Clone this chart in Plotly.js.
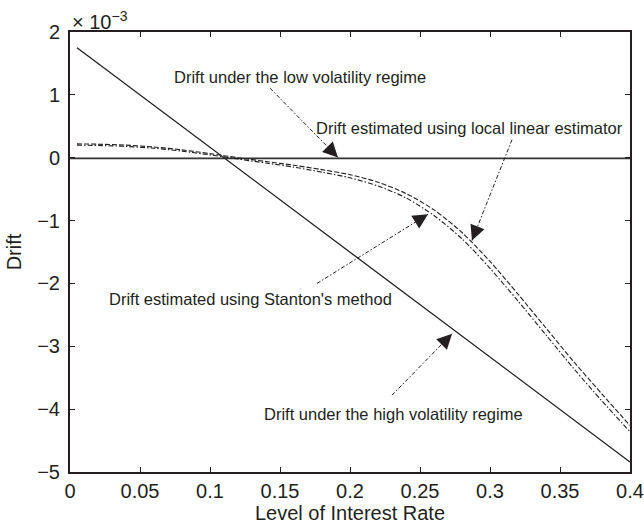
<!DOCTYPE html>
<html>
<head>
<meta charset="utf-8">
<script src="https://cdn.plot.ly/plotly-3.0.1.min.js"></script>
<style>html,body{margin:0;padding:0;background:#fff;}#chart{width:644px;height:528px;}</style>
</head>
<body>
<div id="chart"></div>
<script>
// Values in units of 1e-3 (axis shows "× 10^-3")
const rateGrid = [0.005, 0.02, 0.04, 0.06, 0.08, 0.10, 0.12, 0.14, 0.16, 0.18, 0.20, 0.22, 0.24, 0.26, 0.28, 0.30, 0.32, 0.34, 0.36, 0.38, 0.40];
const driftLocalLinear = [0.22, 0.215, 0.20, 0.17, 0.125, 0.065, 0.0, -0.06, -0.12, -0.19, -0.27, -0.39, -0.57, -0.83, -1.19, -1.65, -2.17, -2.71, -3.25, -3.76, -4.26];
const driftStanton     = [0.20, 0.195, 0.18, 0.15, 0.105, 0.045, -0.02, -0.085, -0.15, -0.23, -0.32, -0.45, -0.64, -0.92, -1.29, -1.76, -2.28, -2.82, -3.36, -3.87, -4.36];
const highVolRate = [0.005, 0.40];
const highVolDrift = [1.75, -4.84];
const lowVolRate = [0.0, 0.40];
const lowVolDrift = [-0.01, -0.01];

const xTicks = [0, 0.05, 0.1, 0.15, 0.2, 0.25, 0.3, 0.35, 0.4];
const xTickText = ['0', '0.05', '0.1', '0.15', '0.2', '0.25', '0.3', '0.35', '0.4'];
const yTicks = [-5, -4, -3, -2, -1, 0, 1, 2];
const yTickText = ['\u22125', '\u22124', '\u22123', '\u22122', '\u22121', '0', '1', '2'];

// Callout labels: text, text position, arrow tail, arrow head (data coords)
const labelTexts = ['Drift under the low volatility regime', 'Drift estimated using local linear estimator', "Drift estimated using Stanton's method", 'Drift under the high volatility regime'];
const labelPos = [[0.1643, 1.28], [0.2850, 0.47], [0.1286, -2.24], [0.2314, -4.07]];
const arrowTail = [[0.1429, 1.106], [0.3157, 0.286], [0.1764, -2.0], [0.2300, -3.778]];
const arrowHead = [[0.1914, 0.005], [0.2871, -1.317], [0.2557, -0.90], [0.2729, -2.80]];

const ink = '#231f20';
const FONT = 'Liberation Sans, Arial, Helvetica, sans-serif';

const traces = [
  {x: highVolRate, y: highVolDrift, mode: 'lines', line: {color: ink, width: 1.3}, name: 'high'},
  {x: lowVolRate, y: lowVolDrift, mode: 'lines', line: {color: '#333', width: 1.8}, name: 'low'},
  {x: rateGrid, y: driftLocalLinear, mode: 'lines', line: {color: ink, width: 1.1, dash: '5px,2px', shape: 'spline', smoothing: 0.8}, name: 'local linear'},
  {x: rateGrid, y: driftStanton, mode: 'lines', line: {color: ink, width: 1.1, dash: '5px,2px,1.5px,2px', shape: 'spline', smoothing: 0.8}, name: 'Stanton'}
];

const plotW = 644 - 70 - 14, plotH = 528 - 32 - 56;
const pxPerX = plotW / 0.4, pxPerY = plotH / 7;

const shapes = [];
const annotations = [];
labelTexts.forEach((t, i) => {
  annotations.push({x: labelPos[i][0], y: labelPos[i][1], xref: 'x', yref: 'y', text: t, showarrow: false,
    font: {family: FONT, size: 16.5, color: ink}, xanchor: 'center', yanchor: 'middle'});
  const [tx, ty] = arrowTail[i], [hx, hy] = arrowHead[i];
  shapes.push({type: 'line', xref: 'x', yref: 'y', x0: tx, y0: ty, x1: hx, y1: hy,
    line: {color: ink, width: 1, dash: '4px,2px,1.5px,2px'}});
  const dx = (tx - hx) * pxPerX, dy = -(ty - hy) * pxPerY;
  const L = Math.hypot(dx, dy);
  annotations.push({x: hx, y: hy, xref: 'x', yref: 'y', text: '', showarrow: true,
    ax: dx / L * 12, ay: dy / L * 12, arrowhead: 2, arrowsize: 3, arrowwidth: 1, arrowcolor: ink});
});
annotations.push({x: 0, y: 1, xref: 'paper', yref: 'paper', xanchor: 'left', yanchor: 'bottom', yshift: -3,
  text: '\u00d7 10<sup>\u22123</sup>', showarrow: false, font: {family: FONT, size: 20, color: ink}});

const layout = {
  width: 644, height: 528,
  margin: {l: 70, r: 14, t: 32, b: 56},
  paper_bgcolor: '#fff', plot_bgcolor: '#fff',
  showlegend: false,
  font: {family: FONT, size: 20, color: ink},
  xaxis: {range: [0, 0.4], tickvals: xTicks, ticktext: xTickText, ticks: 'inside', ticklen: 5, tickcolor: ink,
    showline: true, linecolor: ink, linewidth: 2, mirror: 'ticks', showgrid: false, zeroline: false,
    title: {text: 'Level of Interest Rate', font: {size: 20}, standoff: 4}},
  yaxis: {range: [-5, 2], tickvals: yTicks, ticktext: yTickText, ticks: 'inside', ticklen: 5, tickcolor: ink,
    showline: true, linecolor: ink, linewidth: 2, mirror: 'ticks', showgrid: false, zeroline: false,
    ticklabelstandoff: 4,
    title: {text: 'Drift', font: {size: 20}, standoff: 10}},
  shapes: shapes,
  annotations: annotations
};

Plotly.newPlot('chart', traces, layout, {staticPlot: true, displayModeBar: false});
</script>
</body>
</html>
